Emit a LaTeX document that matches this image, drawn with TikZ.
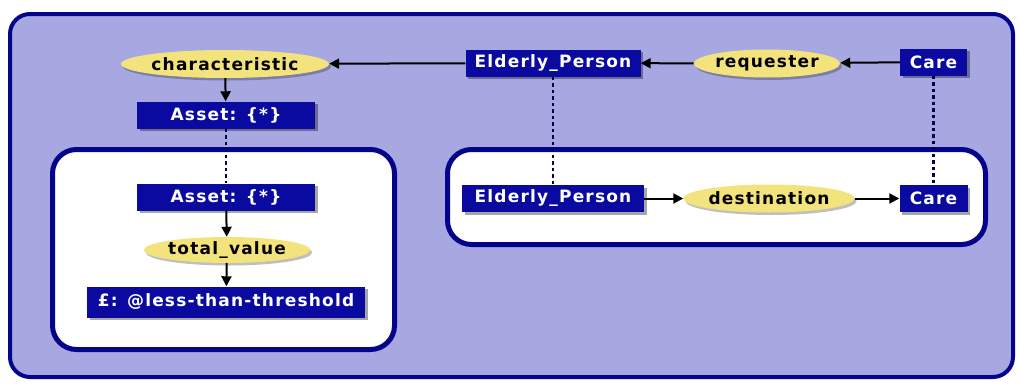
\documentclass[tikz,border=0pt]{standalone}
\usepackage{fontspec}
\setmainfont{DejaVu Sans}
\newfontfamily\lblfont[LetterSpace=7]{DejaVu Sans}
\usetikzlibrary{shapes.geometric,arrows.meta,shadows}
\definecolor{lavender}{HTML}{A7A7E2}
\definecolor{framenavy}{HTML}{05058C}
\definecolor{boxblue}{HTML}{0A0AA0}
\definecolor{relyellow}{HTML}{F3E37C}
\tikzset{
  labelfont/.style={font=\lblfont\bfseries\fontsize{17}{17}\selectfont},
  cbox/.style={rectangle, fill=boxblue, text=white, labelfont, inner sep=0pt,
    minimum height=27pt,
    drop shadow={shadow xshift=2.5pt, shadow yshift=-2.5pt, fill=black, opacity=0.35}},
  rel/.style={ellipse, fill=relyellow, text=black, labelfont, inner sep=0pt,
    minimum height=28pt,
    drop shadow={shadow xshift=2pt, shadow yshift=-2.5pt, fill=black, opacity=0.25}},
  panel/.style={draw=framenavy, line width=5pt, fill=white, rounded corners=24pt},
  arr/.style={draw=black, line width=2pt, -{Triangle[length=10pt,width=10pt]}},
  dots/.style={draw=framenavy!50!black, line width=2.2pt, dash pattern=on 3.5pt off 3pt}
}
\begin{document}
\begin{tikzpicture}[x=1pt,y=-1pt]
\useasboundingbox (0,0) rectangle (1020,383);
% outer frame
\draw[draw=framenavy, line width=4pt, fill=lavender, rounded corners=20pt]
  (10,14) rectangle (1013,377);
% inner panels
\draw[panel] (52.5,149.5) rectangle (394.5,349.5);
\draw[panel] (447.5,149.5) rectangle (985.5,244.5);

% top row
\node[rel, minimum width=164pt] (char) at (225,64) {characteristic};
\node[cbox, minimum width=175pt] (ep1) at (553,63) {Elderly\_Person};
\node[rel, minimum width=121pt] (req) at (767,63.5) {requester};
\node[cbox, minimum width=67pt] (care1) at (933.5,62) {Care};
\node[cbox, minimum width=178pt] (ast1) at (226,115) {Asset: \{*\}};

% left panel
\node[cbox, minimum width=178pt] (ast2) at (226,197) {Asset: \{*\}};
\node[rel, minimum width=140pt, minimum height=26pt] (tot) at (227,250) {total\_value};
\node[cbox, minimum width=278pt, minimum height=31pt] (thr) at (226,302) {£: @less-than-threshold};

% right panel
\node[cbox, minimum width=182pt] (ep2) at (553,198.5) {Elderly\_Person};
\node[rel, minimum width=141pt] (dest) at (769,198.5) {destination};
\node[cbox, minimum width=68pt] (care2) at (933.5,198.5) {Care};

% connectors
\draw[arr] (ep1) -- (char);
\draw[arr] (care1) -- (req);
\draw[arr] (req) -- (ep1);
\draw[arr] (char) -- (ast1);
\draw[dots] (ast1) -- (ast2);
\draw[arr] (ast2) -- (tot);
\draw[arr] (tot) -- (thr);
\draw[dots] (ep1) -- (ep2);
\draw[dots] (care1) -- (care2);
\draw[arr] (ep2) -- (dest);
\draw[arr] (dest) -- (care2);
\end{tikzpicture}
\end{document}
